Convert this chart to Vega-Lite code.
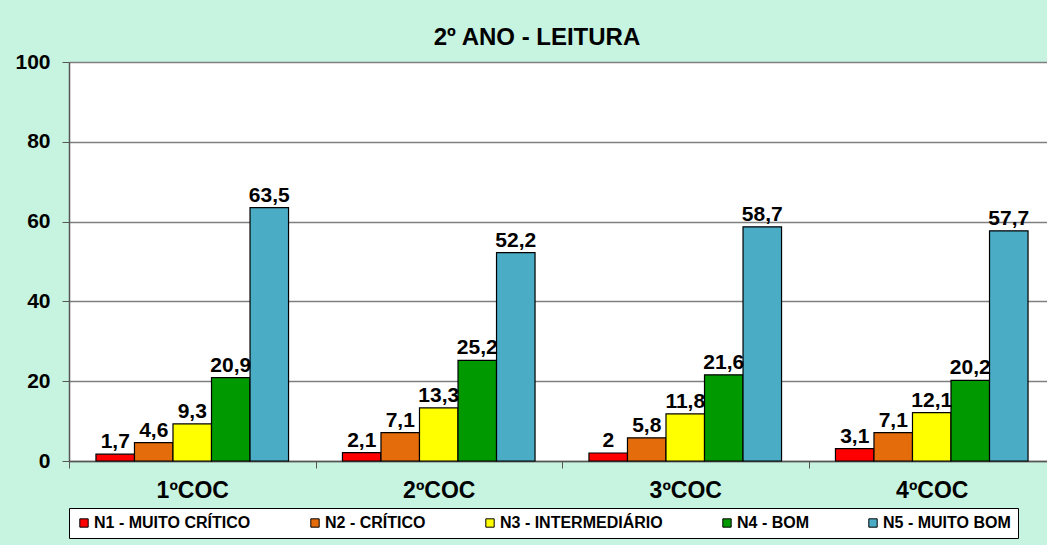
{
  "$schema": "https://vega.github.io/schema/vega-lite/v6.json",
  "autosize": {"type": "none"},
  "width": 986,
  "height": 399,
  "padding": {"left": 69, "top": 62, "right": -8, "bottom": 84},
  "background": "#C6F4E0",
  "title": {
    "text": "2º ANO - LEITURA",
    "font": "Liberation Sans",
    "fontSize": 24,
    "fontWeight": "bold",
    "color": "#000000",
    "anchor": "middle",
    "dx": -25,
    "offset": 1
  },
  "data": {
    "values": [
      {"coc": "1ºCOC", "nivel": "N1 - MUITO CRÍTICO", "valor": 1.7},
      {"coc": "1ºCOC", "nivel": "N2 - CRÍTICO", "valor": 4.6},
      {"coc": "1ºCOC", "nivel": "N3 - INTERMEDIÁRIO", "valor": 9.3},
      {"coc": "1ºCOC", "nivel": "N4 - BOM", "valor": 20.9},
      {"coc": "1ºCOC", "nivel": "N5 - MUITO BOM", "valor": 63.5},
      {"coc": "2ºCOC", "nivel": "N1 - MUITO CRÍTICO", "valor": 2.1},
      {"coc": "2ºCOC", "nivel": "N2 - CRÍTICO", "valor": 7.1},
      {"coc": "2ºCOC", "nivel": "N3 - INTERMEDIÁRIO", "valor": 13.3},
      {"coc": "2ºCOC", "nivel": "N4 - BOM", "valor": 25.2},
      {"coc": "2ºCOC", "nivel": "N5 - MUITO BOM", "valor": 52.2},
      {"coc": "3ºCOC", "nivel": "N1 - MUITO CRÍTICO", "valor": 2},
      {"coc": "3ºCOC", "nivel": "N2 - CRÍTICO", "valor": 5.8},
      {"coc": "3ºCOC", "nivel": "N3 - INTERMEDIÁRIO", "valor": 11.8},
      {"coc": "3ºCOC", "nivel": "N4 - BOM", "valor": 21.6},
      {"coc": "3ºCOC", "nivel": "N5 - MUITO BOM", "valor": 58.7},
      {"coc": "4ºCOC", "nivel": "N1 - MUITO CRÍTICO", "valor": 3.1},
      {"coc": "4ºCOC", "nivel": "N2 - CRÍTICO", "valor": 7.1},
      {"coc": "4ºCOC", "nivel": "N3 - INTERMEDIÁRIO", "valor": 12.1},
      {"coc": "4ºCOC", "nivel": "N4 - BOM", "valor": 20.2},
      {"coc": "4ºCOC", "nivel": "N5 - MUITO BOM", "valor": 57.7}
    ]
  },
  "encoding": {
    "x": {
      "field": "coc",
      "type": "nominal",
      "sort": null,
      "scale": {"paddingInner": 0, "paddingOuter": 0},
      "axis": {
        "title": null,
        "labelAngle": 0,
        "labelFont": "Liberation Sans",
        "labelFontSize": 23,
        "labelFontWeight": "bold",
        "labelColor": "#000000",
        "labelPadding": 11,
        "tickBand": "extent",
        "tickSize": 7,
        "tickColor": "#555555",
        "domainColor": "#555555",
        "domainWidth": 1.5
      }
    },
    "xOffset": {"field": "nivel", "type": "nominal", "sort": null, "scale": {"paddingInner": 0, "paddingOuter": 0.7}},
    "y": {
      "field": "valor",
      "type": "quantitative",
      "scale": {"domain": [0, 100], "nice": false},
      "axis": {
        "title": null,
        "values": [0, 20, 40, 60, 80, 100],
        "labelFont": "Liberation Sans",
        "labelFontSize": 21,
        "labelFontWeight": "bold",
        "labelColor": "#000000",
        "labelPadding": 12,
        "tickSize": 7,
        "tickColor": "#555555",
        "domainColor": "#555555",
        "domainWidth": 1.5,
        "grid": true,
        "gridColor": "#7f7f7f",
        "gridWidth": 1.5
      }
    }
  },
  "layer": [
    {
      "mark": {"type": "bar", "stroke": "#000000", "strokeWidth": 1.2},
      "encoding": {
        "color": {
          "field": "nivel",
          "type": "nominal",
          "sort": null,
          "scale": {
            "domain": ["N1 - MUITO CRÍTICO", "N2 - CRÍTICO", "N3 - INTERMEDIÁRIO", "N4 - BOM", "N5 - MUITO BOM"],
            "range": ["#FF0000", "#E46C0A", "#FFFF00", "#009A00", "#4BACC6"]
          },
          "legend": {
            "title": null,
            "orient": "bottom",
            "direction": "horizontal",
            "offset": 6,
            "symbolType": "square",
            "symbolSize": 70,
            "symbolStrokeColor": "#000000",
            "symbolStrokeWidth": 1,
            "symbolOpacity": 1,
            "labelFont": "Liberation Sans",
            "labelFontSize": 16,
            "labelFontWeight": "bold",
            "labelColor": "#000000",
            "labelOffset": 2,
            "labelLimit": 400,
            "columnPadding": 56,
            "padding": 7,
            "fillColor": "#FFFFFF",
            "strokeColor": "#000000"
          }
        }
      }
    },
    {
      "mark": {"type": "text", "baseline": "bottom", "dy": -2, "font": "Liberation Sans", "fontSize": 21, "fontWeight": "bold", "color": "#000000"},
      "encoding": {
        "text": {"field": "valor", "type": "quantitative", "format": ",.1~f", "formatType": "number"}
      }
    }
  ],
  "config": {
    "view": {"fill": "#FFFFFF", "stroke": null},
    "locale": {"number": {"decimal": ",", "thousands": ".", "grouping": [3], "currency": ["", ""]}}
  }
}
